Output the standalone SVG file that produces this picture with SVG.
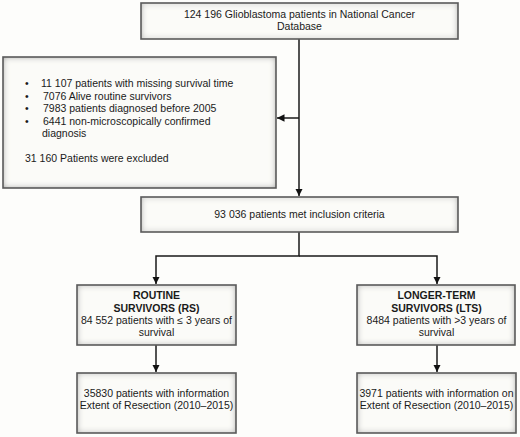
<svg xmlns="http://www.w3.org/2000/svg" width="520" height="437" viewBox="0 0 520 437">
<defs>
<filter id="inner" x="-5%" y="-5%" width="110%" height="110%">
<feFlood flood-color="#888" result="c"/>
<feComposite in="c" in2="SourceAlpha" operator="out" result="inv"/>
<feGaussianBlur in="inv" stdDeviation="3" result="blur"/>
<feComposite in="blur" in2="SourceAlpha" operator="in" result="sh"/>
<feMerge><feMergeNode in="SourceGraphic"/><feMergeNode in="sh"/></feMerge>
</filter>
<marker id="ah" viewBox="0 0 10 10" refX="10" refY="5" markerWidth="5" markerHeight="5" orient="auto">
<path d="M0,0 L10,5 L0,10 z" fill="#111"/>
</marker>
</defs>
<style>
.box{fill:#fbfbf8;filter:url(#inner)}
.bd{fill:none;stroke:#5a5a5a;stroke-width:1.6}
text{font-family:"Liberation Sans",Arial,sans-serif;font-size:10.5px;fill:#1a1a1a}
.c{text-anchor:middle}
.b{font-weight:bold}
.ln{fill:none;stroke:#1a1a1a;stroke-width:1.5}
</style>
<rect width="520" height="437" fill="#fdfdfb"/>
<g id="connectors">
<line class="ln" x1="299" y1="39" x2="299" y2="196" marker-end="url(#ah)"/>
<line class="ln" x1="299" y1="118" x2="277" y2="118" marker-end="url(#ah)"/>
<polyline class="ln" points="299,232 299,256 156,256 156,284" marker-end="url(#ah)"/>
<polyline class="ln" points="299,256 437,256 437,284" marker-end="url(#ah)"/>
<line class="ln" x1="156" y1="345" x2="156" y2="372" marker-end="url(#ah)"/>
<line class="ln" x1="437" y1="345" x2="437" y2="372" marker-end="url(#ah)"/>
</g>
<g id="n-total">
<rect class="box" x="141" y="3" width="317" height="36"/>
<rect class="bd" x="141" y="3" width="317" height="36"/>
<text class="c" x="299.5" y="18">124 196 Glioblastoma patients in National Cancer</text>
<text class="c" x="299.5" y="29.5">Database</text>
</g>
<g id="n-excluded">
<rect class="box" x="3" y="57" width="273" height="131"/>
<rect class="bd" x="3" y="57" width="273" height="131"/>
<text x="25" y="87">•</text><text x="41" y="87">11 107 patients with missing survival time</text>
<text x="25" y="99.5">•</text><text x="43" y="99.5">7076 Alive routine survivors</text>
<text x="25" y="112">•</text><text x="43" y="112">7983 patients diagnosed before 2005</text>
<text x="25" y="124.5">•</text><text x="43" y="124.5">6441 non-microscopically confirmed</text>
<text x="42" y="137">diagnosis</text>
<text x="25" y="161.5">31 160 Patients were excluded</text>
</g>
<g id="n-included">
<rect class="box" x="141" y="197" width="317" height="35"/>
<rect class="bd" x="141" y="197" width="317" height="35"/>
<text class="c" x="299.5" y="218">93 036 patients met inclusion criteria</text>
</g>
<g id="n-rs">
<rect class="box" x="77" y="285" width="159" height="60"/>
<rect class="bd" x="77" y="285" width="159" height="60"/>
<text class="c b" x="156.5" y="299">ROUTINE</text>
<text class="c b" x="156.5" y="311.5">SURVIVORS (RS)</text>
<text class="c" x="156.5" y="323.5">84 552 patients with ≤ 3 years of</text>
<text class="c" x="156.5" y="335.5">survival</text>
</g>
<g id="n-lts">
<rect class="box" x="357" y="285" width="158" height="60"/>
<rect class="bd" x="357" y="285" width="158" height="60"/>
<text class="c b" x="436.5" y="299">LONGER-TERM</text>
<text class="c b" x="436.5" y="311.5">SURVIVORS (LTS)</text>
<text class="c" x="436.5" y="323.5">8484 patients with &gt;3 years of</text>
<text class="c" x="436.5" y="335.5">survival</text>
</g>
<g id="n-rs-eor">
<rect class="box" x="77" y="373" width="159" height="60"/>
<rect class="bd" x="77" y="373" width="159" height="60"/>
<text class="c" x="156.5" y="397">35830 patients with information</text>
<text class="c" x="156.5" y="409">Extent of Resection (2010–2015)</text>
</g>
<g id="n-lts-eor">
<rect class="box" x="357" y="373" width="159" height="60"/>
<rect class="bd" x="357" y="373" width="159" height="60"/>
<text class="c" x="436.5" y="397">3971 patients with information on</text>
<text class="c" x="436.5" y="409">Extent of Resection (2010–2015)</text>
</g>
</svg>
